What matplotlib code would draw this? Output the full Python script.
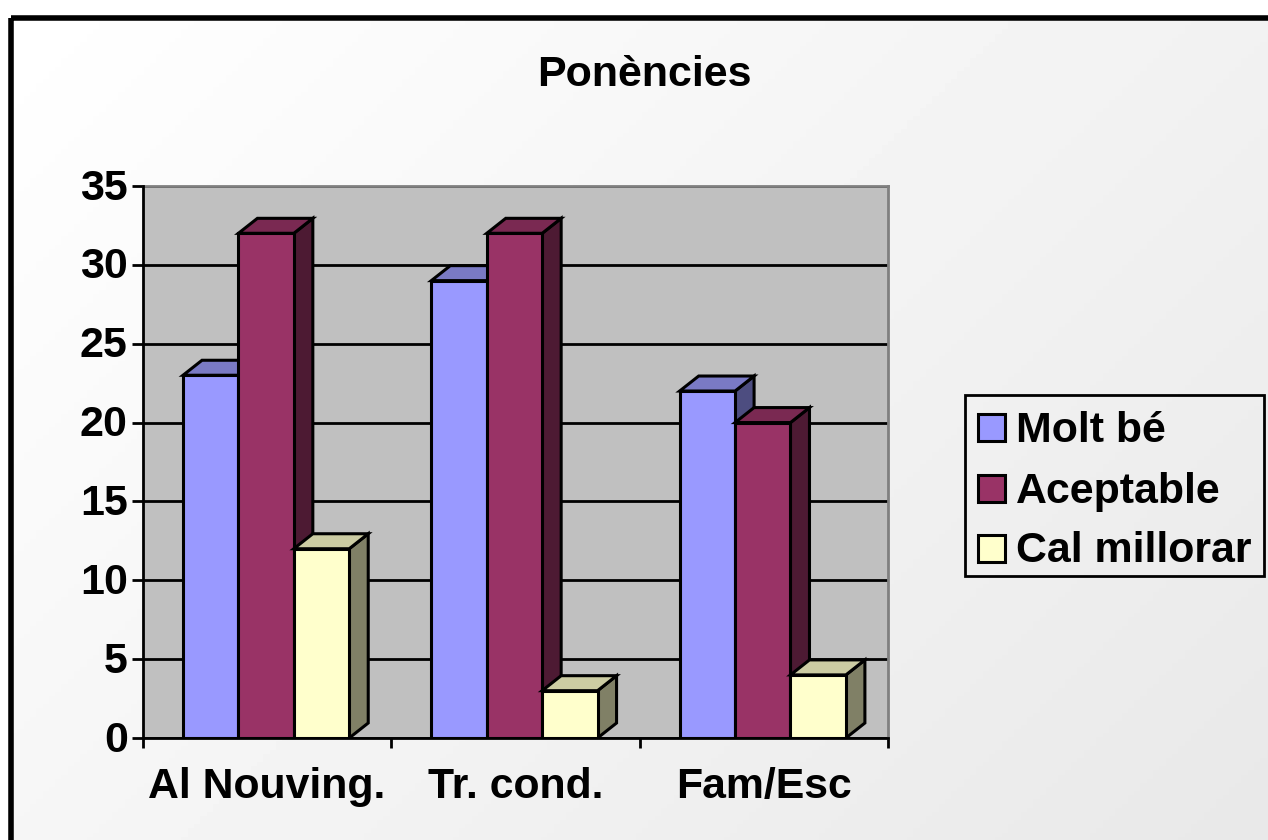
import numpy as np
import matplotlib
matplotlib.use("Agg")
import matplotlib.pyplot as plt
from matplotlib.patches import Polygon, Rectangle
from matplotlib.transforms import ScaledTranslation

plt.rcParams['font.family'] = ['Liberation Sans', 'DejaVu Sans']
plt.rcParams['font.weight'] = 'bold'

categories = ["Al Nouving.", "Tr. cond.", "Fam/Esc"]
series_names = ["Molt bé", "Aceptable", "Cal millorar"]
molt_be = [23, 29, 22]
aceptable = [32, 32, 20]
cal_millorar = [12, 3, 4]
y_ticks = [0, 5, 10, 15, 20, 25, 30, 35]

front_colors = ["#9999ff", "#993366", "#ffffcc"]
top_colors = ["#7a7ac4", "#7a2952", "#cccca3"]
side_colors = ["#4d4d80", "#4d1a33", "#808066"]

W, H = 1268, 840
fig = plt.figure(figsize=(W / 100, H / 100), dpi=100, facecolor="white")

# background gradient inside the black frame
bg = fig.add_axes([0, 0, 1, 1])
bg.axis("off")
xx, yy = np.meshgrid(np.linspace(0, 1, 200), np.linspace(0, 1, 200))
grad = 1 - 0.09 * (xx * 0.6 + yy * 0.4)
bg.imshow(grad, cmap="gray", vmin=0, vmax=1, extent=[11, W + 5, H + 5, 17], aspect="auto")
bg.set_xlim(0, W)
bg.set_ylim(H, 0)
bg.add_patch(Rectangle((11, 17.5), W, H, fill=False, edgecolor="black", linewidth=4))

# plot area in pixels
left, right, top, bottom = 143, 888, 186, 738
ax = fig.add_axes([left / W, 1 - bottom / H, (right - left) / W, (bottom - top) / H])
ax.set_facecolor("#c0c0c0")
ax.set_xlim(0, 3)
ax.set_ylim(0, 35)
ax.set_xticks([0, 1, 2, 3])
ax.set_xticklabels([])
ax.set_yticks(y_ticks)
ax.set_yticklabels([str(v) for v in y_ticks], fontsize=31, fontweight="bold")
ax.tick_params(axis="y", length=8, width=2, pad=3)
ax.tick_params(axis="x", length=7, width=2)
ax.grid(axis="y", color="black", linewidth=2)
ax.set_axisbelow(True)
for lab in ax.get_yticklabels():
    lab.set_transform(lab.get_transform() + ScaledTranslation(0, 2 / 100, fig.dpi_scale_trans))
for s in ["top", "right"]:
    ax.spines[s].set_color("#808080")
    ax.spines[s].set_linewidth(2)
for s in ["left", "bottom"]:
    ax.spines[s].set_linewidth(2)
    ax.spines[s].set_zorder(8)

bar_w = 55.4 / 248.3
offset = 40 / 248.3
dx = 19 / 248.3
dy = 15 / (552 / 35)

for i, vals in enumerate([molt_be, aceptable, cal_millorar]):
    for c, v in enumerate(vals):
        x0 = c + offset + i * bar_w
        x1 = x0 + bar_w
        # side, top, then front of the fake 3d bar
        ax.add_patch(Polygon([(x1, 0), (x1 + dx, dy), (x1 + dx, v + dy), (x1, v)],
                             facecolor=side_colors[i], edgecolor="black", linewidth=2.2, zorder=3 + i, joinstyle="miter"))
        ax.add_patch(Polygon([(x0, v), (x0 + dx, v + dy), (x1 + dx, v + dy), (x1, v)],
                             facecolor=top_colors[i], edgecolor="black", linewidth=2.2, zorder=3 + i, joinstyle="miter"))
        ax.add_patch(Rectangle((x0, 0), bar_w, v, facecolor=front_colors[i],
                               edgecolor="black", linewidth=2.2, zorder=3 + i))

for c, name in enumerate(categories):
    fig.text((left + (c + 0.5) * 248.3) / W, 1 - 798 / H, name, ha="center", va="baseline",
             fontsize=30.8, fontweight="bold")

fig.text(644 / W, 1 - 86 / H, "Ponències", ha="center", va="baseline", fontsize=31, fontweight="bold")

# legend box drawn by hand to keep it at the exact spot
bg.add_patch(Rectangle((965, 395), 299, 181, facecolor="none", edgecolor="black", linewidth=2, zorder=5))
swatch_y = [427.5, 488.5, 548]
text_y = [442, 502.5, 562]
for i, name in enumerate(series_names):
    bg.add_patch(Rectangle((978, swatch_y[i] - 13.5), 27, 27, facecolor=front_colors[i],
                           edgecolor="black", linewidth=2.2, zorder=5))
    bg.text(1016, text_y[i], name, ha="left", va="baseline", fontsize=30.9, fontweight="bold", zorder=5)

fig.savefig("out.png", dpi=100)
